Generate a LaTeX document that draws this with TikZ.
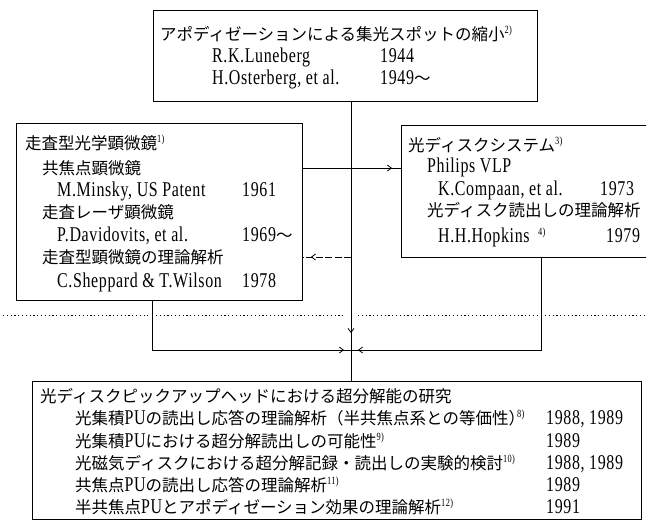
\documentclass[tikz,border=0pt]{standalone}
\usepackage{fontspec}
\setmainfont{Liberation Serif}[FakeStretch=0.76,LetterSpace=3]
\newfontfamily\jp{Noto Sans CJK JP}
\usetikzlibrary{arrows.meta,decorations.markings}
\newcommand\jt[1]{{\jp\fontsize{16.5}{18}\selectfont #1}}
\newcommand\sr[1]{\raisebox{6.5pt}{\fontsize{11}{11}\selectfont #1)}}
\tikzset{
  txt/.style={anchor=base west, inner sep=0pt, font=\fontsize{21}{23}\selectfont},
  frame/.style={draw, line width=0.9pt, anchor=north west, inner sep=0pt},
  conn/.style={line width=0.8pt},
  marr/.style={postaction={decorate}, decoration={markings, mark=at position #1 with {\arrow{Straight Barb[length=4pt,width=6pt]}}}},
  dotline/.style={line width=0.8pt, dash pattern=on 1.2pt off 2.6pt},
  dashline/.style={line width=0.8pt, dash pattern=on 7pt off 2.5pt}
}
\begin{document}
\begin{tikzpicture}[x=1pt,y=-1pt]
\useasboundingbox (0,0) rectangle (646,523);
% boxes
\node[frame, minimum width=384pt, minimum height=91pt] (top) at (153,10) {};
\node[frame, minimum width=286pt, minimum height=177pt] (left) at (16,123) {};
\node[anchor=north west, inner sep=0pt, minimum width=245pt, minimum height=132pt] (rbox) at (401,125) {};
\draw[line width=0.9pt] (rbox.north east) -- (rbox.north west) -- (rbox.south west) -- (rbox.south east);
\node[frame, minimum width=609pt, minimum height=138pt] (bot) at (32,381) {};
% top box text
\node[txt] (a1) at (160,40) {\jt{アポディゼーションによる集光スポットの縮小}\sr{2}};
\node[txt] (a2) at (212,62) {R.K.Luneberg};
\node[txt] (a2y) at (380,62) {1944};
\node[txt] (a3) at (212,84) {H.Osterberg, et al.};
\node[txt] (a3y) at (380,84) {1949\jt{～}};
% left box text
\node[txt] (b1) at (25,149) {\jt{走査型光学顕微鏡}\sr{1}};
\node[txt] (b2) at (42,174) {\jt{共焦点顕微鏡}};
\node[txt] (b3) at (57,196) {M.Minsky, US Patent};
\node[txt] (b3y) at (242,196) {1961};
\node[txt] (b4) at (42,218) {\jt{走査レーザ顕微鏡}};
\node[txt] (b5) at (57,241) {P.Davidovits, et al.};
\node[txt] (b5y) at (242,241) {1969\jt{～}};
\node[txt] (b6) at (42,263) {\jt{走査型顕微鏡の理論解析}};
\node[txt] (b7) at (57,287) {C.Sheppard \& T.Wilson};
\node[txt] (b7y) at (242,287) {1978};
% right box text
\node[txt] (c1) at (408,151) {\jt{光ディスクシステム}\sr{3}};
\node[txt] (c2) at (427,172) {Philips VLP};
\node[txt] (c3) at (438,195) {K.Compaan, et al.};
\node[txt] (c3y) at (600,195) {1973};
\node[txt] (c4) at (427,216) {\jt{光ディスク読出しの理論解析}};
\node[txt] (c5) at (438,242) {H.H.Hopkins};
\node[txt] (c5s) at (538,242) {\sr{4}};
\node[txt] (c5y) at (606,242) {1979};
% bottom box text
\node[txt] (d0) at (40,402) {\jt{光ディスクピックアップヘッドにおける超分解能の研究}};
\node[txt] (d1) at (75,424) {\jt{光集積}PU\jt{の読出し応答の理論解析（半共焦点系との等価性）}\kern-8pt\sr{8}};
\node[txt] (d1y) at (546,424) {1988, 1989};
\node[txt] (d2) at (75,447) {\jt{光集積}PU\jt{における超分解読出しの可能性}\sr{9}};
\node[txt] (d2y) at (546,447) {1989};
\node[txt] (d3) at (75,469) {\jt{光磁気ディスクにおける超分解記録・読出しの実験的検討}\sr{10}};
\node[txt] (d3y) at (546,469) {1988, 1989};
\node[txt] (d4) at (75,491) {\jt{共焦点}PU\jt{の読出し応答の理論解析}\sr{11}};
\node[txt] (d4y) at (546,491) {1989};
\node[txt] (d5) at (75,513) {\jt{半共焦点}PU\jt{とアポディゼーション効果の理論解析}\sr{12}};
\node[txt] (d5y) at (546,513) {1991};
% dotted separator
\draw[dotline] (3,315) -- (148,315);
\draw[dotline] (156,315) -- (345,315);
\draw[dotline] (358,315) -- (537,315);
\draw[dotline] (545,315) -- (646,315);
% connectors
\coordinate (cross) at (351,350);
\coordinate (lx) at (152,0);
\coordinate (rx) at (541,0);
\coordinate (yA) at (0,168);
\coordinate (yB) at (0,257);
\draw[conn, marr=-48pt] (top.south -| cross) -- (bot.north -| cross);
\draw[conn, marr=-7pt] (left.south -| lx) |- (cross);
\draw[conn, marr=-7pt] (rbox.south -| rx) |- (cross);
\draw[conn, marr=-9pt] (left.east |- yA) -- (rbox.west |- yA);
\draw[dashline, marr=-8pt] (cross |- yB) -- (left.east |- yB);
\end{tikzpicture}
\end{document}
